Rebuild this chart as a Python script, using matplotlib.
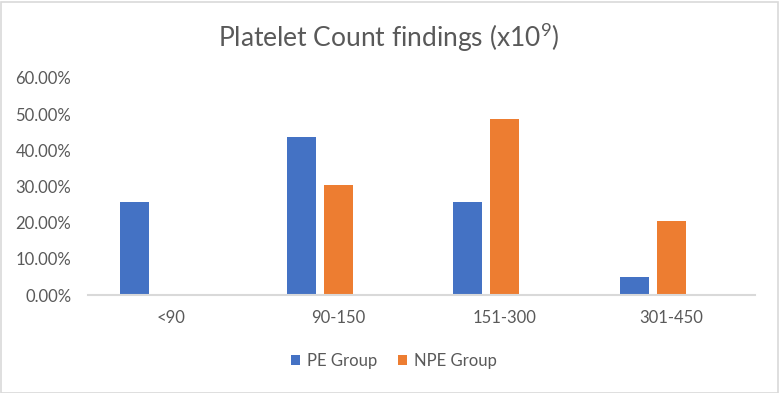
import matplotlib
matplotlib.use("Agg")
import matplotlib.pyplot as plt
from matplotlib.patches import Rectangle, Patch
from matplotlib.ticker import FuncFormatter
import numpy as np

categories = ["<90", "90-150", "151-300", "301-450"]
pe_group = [25.6, 43.6, 25.6, 5.1]
npe_group = [0.0, 30.4, 48.7, 20.5]
series_names = ["PE Group", "NPE Group"]
title = "Platelet Count findings (x10$^{9}$)"

W, H = 779, 393
fig = plt.figure(figsize=(W / 100, H / 100), dpi=100)
plt.rcParams['font.family'] = ['Lato', 'DejaVu Sans']
plt.rcParams['mathtext.fontset'] = 'custom'
plt.rcParams['mathtext.rm'] = 'Lato'
plt.rcParams['mathtext.default'] = 'rm'

ax = fig.add_axes([88 / W, 1 - 295 / H, (755 - 88) / W, (295 - 78) / H])

blue = "#4472C4"
orange = "#ED7D31"
grey = "#595959"
x = np.arange(len(categories))
bw = 29 / 166.75
off = 37 / 166.75
ax.bar(x - off, np.array(pe_group) / 100, width=bw, color=blue, label=series_names[0])
ax.bar(x, np.array(npe_group) / 100, width=bw, color=orange, label=series_names[1])

ax.set_xlim(-0.5, len(categories) - 0.5)
ax.set_ylim(0, 0.6)
ax.set_yticks(np.arange(0, 0.61, 0.1))
ax.yaxis.set_major_formatter(FuncFormatter(lambda v, p: f"{v*100:.2f}%"))
ax.set_xticks(x)
ax.set_xticklabels(categories)

for s in ["top", "right", "left"]:
    ax.spines[s].set_visible(False)
ax.spines["bottom"].set_color("#D9D9D9")
ax.spines["bottom"].set_linewidth(1.5)
ax.tick_params(axis="y", length=0, pad=12, labelsize=12, labelcolor=grey)
ax.tick_params(axis="x", length=0, pad=11, labelsize=12, labelcolor=grey)

fig.text(389 / W, 1 - 38 / H, title, ha="center", va="center", fontsize=19, color=grey)

handles = [Patch(facecolor=blue), Patch(facecolor=orange)]
fig.legend(handles, series_names, loc="center", bbox_to_anchor=(394 / W, 1 - 361 / H),
           ncol=2, frameon=False, fontsize=12, labelcolor=grey,
           handlelength=0.55, handleheight=0.55, handletextpad=0.45, columnspacing=1.2)

fig.patches.append(Rectangle((0.5 / W, 0.5 / H), (W - 2) / W, (H - 2) / H, transform=fig.transFigure,
                             fill=False, edgecolor="#D9D9D9", linewidth=1.2))

fig.savefig("out.png", dpi=100)
